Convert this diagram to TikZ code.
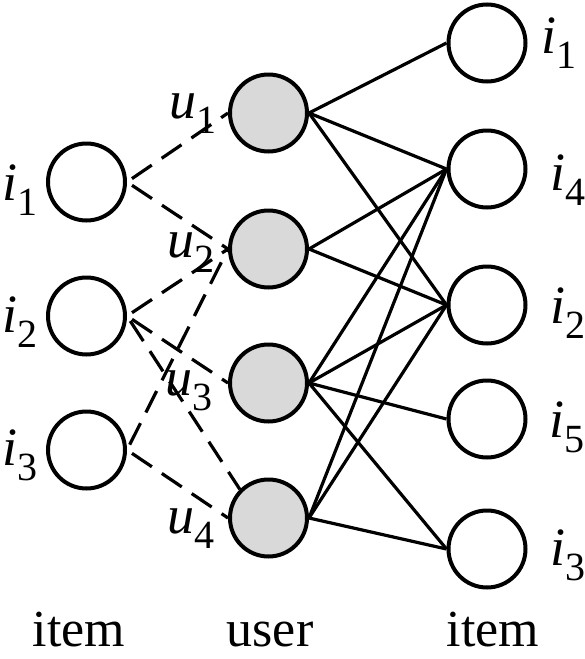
\documentclass[tikz,border=0pt]{standalone}
\usepackage{fontspec}
\setmainfont{Liberation Serif}
\newcommand\lbl[2]{{\fontsize{54}{54}\selectfont\itshape #1}\lower15pt\hbox{\fontsize{40}{40}\selectfont #2}}
\begin{document}
\begin{tikzpicture}[x=1pt,y=-1pt,
  vert/.style={circle,draw=black,line width=4pt,inner sep=0pt,minimum size=77pt,fill=white},
  usr/.style={vert,fill=black!15},
  lab/.style={anchor=base west,inner sep=0pt},
  solidedge/.style={line width=3.2pt},
  dashedge/.style={line width=3.2pt,dash pattern=on 24pt off 12pt,dash phase=30pt},
  caption/.style={anchor=base,inner sep=0pt,font=\fontsize{52}{52}\selectfont}]
\useasboundingbox (0,0) rectangle (584,659);
% left items
\node[vert] (L1) at (86.5,182) {};
\node[vert] (L2) at (86.5,316) {};
\node[vert] (L3) at (86.5,450) {};
% users
\node[usr] (U1) at (268.5,113) {};
\node[usr] (U2) at (268.5,249) {};
\node[usr] (U3) at (268.5,383) {};
\node[usr] (U4) at (268.5,518) {};
% right items
\node[vert] (R1) at (487,43) {};
\node[vert] (R4) at (487,169) {};
\node[vert] (R2) at (487,305) {};
\node[vert] (R5) at (487,419) {};
\node[vert] (R3) at (487,549) {};
% dashed edges
\draw[dashedge] (L1.east) -- (U1.west);
\draw[dashedge] (L1.east) -- (U2.west);
\draw[dashedge] (L2.east) -- (U2.west);
\draw[dashedge] (L2.east) -- (U3.west);
\draw[dashedge] (L2.east) -- (U4.135);
\draw[dashedge] (L3.east) -- (U2.west);
\draw[dashedge] (L3.east) -- (U4.west);
% solid edges
\draw[solidedge] (U1.east) -- (R1.west);
\draw[solidedge] (U1.east) -- (R4.west);
\draw[solidedge] (U1.east) -- (R2.west);
\draw[solidedge] (U2.east) -- (R4.west);
\draw[solidedge] (U2.east) -- (R2.west);
\draw[solidedge] (U3.east) -- (R4.west);
\draw[solidedge] (U3.east) -- (R2.west);
\draw[solidedge] (U3.east) -- (R5.west);
\draw[solidedge] (U3.east) -- (R3.west);
\draw[solidedge] (U4.east) -- (R4.west);
\draw[solidedge] (U4.east) -- (R2.west);
\draw[solidedge] (U4.east) -- (R3.west);
% labels
\node[lab] (tL1) at (2,200) {\lbl{i}{1}};
\node[lab] (tL2) at (2,332) {\lbl{i}{2}};
\node[lab] (tL3) at (2,465) {\lbl{i}{3}};
\node[lab] (tU1) at (169,118) {\lbl{u}{1}};
\node[lab] (tU2) at (167,257) {\lbl{u}{2}};
\node[lab] (tU3) at (165,395) {\lbl{u}{3}};
\node[lab] (tU4) at (167,533) {\lbl{u}{4}};
\node[lab] (tR1) at (541,53) {\lbl{i}{1}};
\node[lab] (tR4) at (550,190) {\lbl{i}{4}};
\node[lab] (tR2) at (550,323) {\lbl{i}{2}};
\node[lab] (tR5) at (549,437) {\lbl{i}{5}};
\node[lab] (tR3) at (550,565) {\lbl{i}{3}};
% captions
\node[caption] (c1) at (79,646) {item};
\node[caption] (c2) at (270,646) {user};
\node[caption] (c3) at (493,646) {item};
\end{tikzpicture}
\end{document}
